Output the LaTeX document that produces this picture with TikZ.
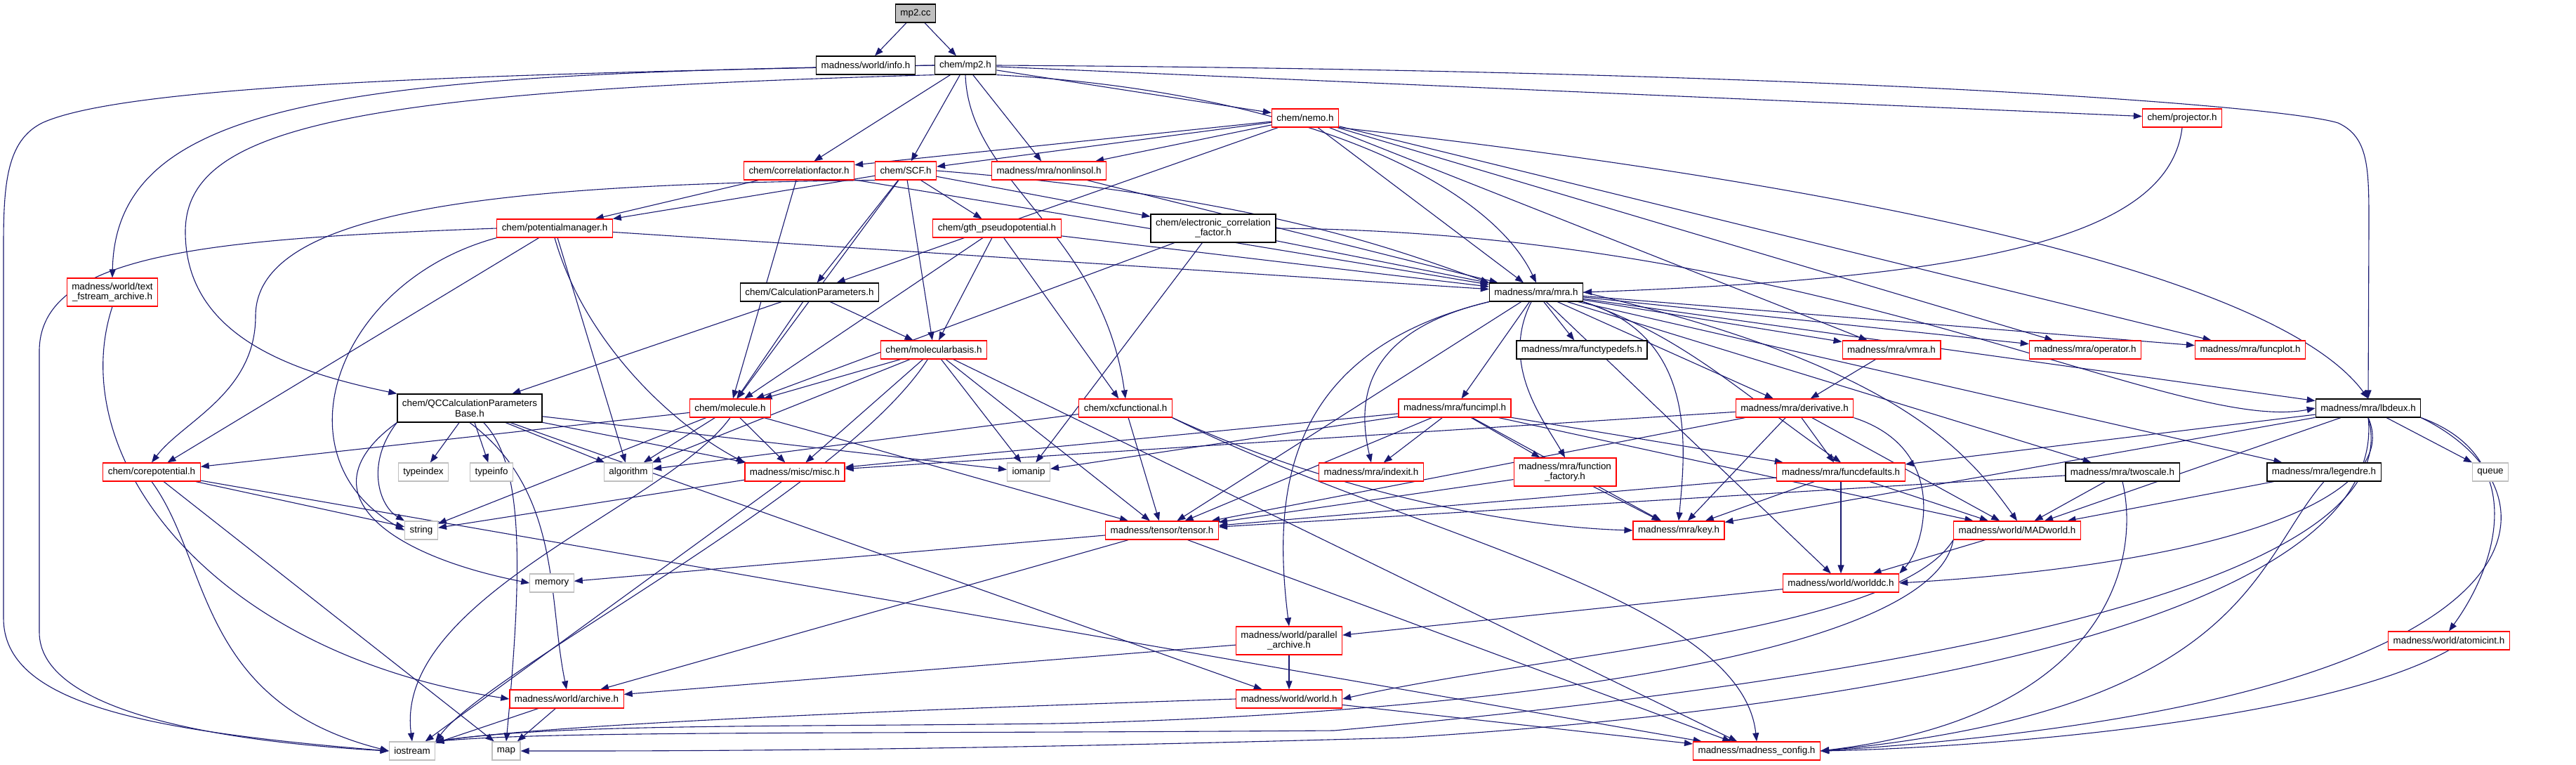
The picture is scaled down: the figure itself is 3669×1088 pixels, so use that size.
\documentclass[tikz,border=0pt]{standalone}
\usepackage{fontspec}
\setmainfont{Liberation Sans}
\definecolor{edgeblue}{RGB}{25,25,112}
\definecolor{sysgray}{RGB}{191,191,191}
\usetikzlibrary{arrows.meta,backgrounds}
\newcommand{\doxfont}{\fontsize{6.7pt}{7.4pt}\selectfont}

\begin{document}
\begin{tikzpicture}[x=0.5pt,y=-0.5pt,
  hdr/.style={draw=black,fill=white,line width=0.6pt,inner xsep=3.5pt,inner ysep=0pt,minimum height=13pt,font=\doxfont,align=center},
  trunc/.style={hdr,draw=red},
  syshdr/.style={hdr,draw=sysgray},
  twoline/.style={minimum height=20pt},
  dep/.style={draw=edgeblue,line width=0.55pt,-{Triangle[length=6pt,width=4.5pt]}}]
  \useasboundingbox (0,0) rectangle (3669,1088);
  % source file
  \node[hdr,fill=sysgray] (mpcc) at (1304,19) {mp2.cc};
  \node[hdr] (info) at (1233,93) {madness/world/info.h};
  \node[hdr] (mph) at (1375,93) {chem/mp2.h};
  % chem headers
  \node[trunc] (nemo) at (1859,168) {chem/nemo.h};
  \node[trunc] (proj) at (3108,168) {chem/projector.h};
  \node[trunc] (corr) at (1138,243) {chem/correlationfactor.h};
  \node[trunc] (scf) at (1290,243) {chem/SCF.h};
  \node[trunc] (nonlin) at (1494,243) {madness/mra/nonlinsol.h};
  \node[trunc] (potm) at (790,325) {chem/potentialmanager.h};
  \node[trunc] (gth) at (1420,325) {chem/gth\_pseudopotential.h};
  \node[hdr,twoline] (ecf) at (1728,325) {chem/electronic\_correlation\\\_factor.h};
  \node[trunc,twoline] (tfa) at (160,416) {madness/world/text\\\_fstream\_archive.h};
  \node[hdr] (calcp) at (1153,416) {chem/CalculationParameters.h};
  \node[hdr] (mra) at (2188,416) {madness/mra/mra.h};
  \node[trunc] (mbas) at (1330,498) {chem/molecularbasis.h};
  \node[hdr] (ftdefs) at (2253,498) {madness/mra/functypedefs.h};
  \node[trunc] (vmra) at (2694,498) {madness/mra/vmra.h};
  \node[trunc] (oper) at (2970,498) {madness/mra/operator.h};
  \node[trunc] (fplot) at (3205,498) {madness/mra/funcplot.h};
  \node[hdr,twoline] (qccp) at (669,581) {chem/QCCalculationParameters\\Base.h};
  \node[trunc] (mol) at (1040,581) {chem/molecule.h};
  \node[trunc] (xcf) at (1603,581) {chem/xcfunctional.h};
  \node[trunc] (fimpl) at (2072,581) {madness/mra/funcimpl.h};
  \node[trunc] (deriv) at (2556,581) {madness/mra/derivative.h};
  \node[hdr] (lbd) at (3373,581) {madness/mra/lbdeux.h};
  % lower rows
  \node[trunc] (corep) at (216,672) {chem/corepotential.h};
  \node[syshdr] (tidx) at (603,672) {typeindex};
  \node[syshdr] (tinf) at (700,672) {typeinfo};
  \node[syshdr] (algo) at (895,672) {algorithm};
  \node[trunc] (misc) at (1132,672) {madness/misc/misc.h};
  \node[syshdr] (ioman) at (1465,672) {iomanip};
  \node[trunc] (idx) at (1953,672) {madness/mra/indexit.h};
  \node[trunc,twoline] (ffac) at (2229,672) {madness/mra/function\\\_factory.h};
  \node[trunc] (fdef) at (2622,672) {madness/mra/funcdefaults.h};
  \node[hdr] (twos) at (3023,672) {madness/mra/twoscale.h};
  \node[hdr] (leg) at (3310,672) {madness/mra/legendre.h};
  \node[syshdr] (queue) at (3547,672) {queue};
  \node[syshdr] (str) at (600,755) {string};
  \node[trunc] (tens) at (1655,755) {madness/tensor/tensor.h};
  \node[trunc] (key) at (2391,755) {madness/mra/key.h};
  \node[trunc] (madw) at (2873,755) {madness/world/MADworld.h};
  \node[syshdr] (mem) at (786,830) {memory};
  \node[trunc] (wdc) at (2622,830) {madness/world/worlddc.h};
  \node[trunc,twoline] (parc) at (1836,912) {madness/world/parallel\\\_archive.h};
  \node[trunc] (atom) at (3488,912) {madness/world/atomicint.h};
  \node[trunc] (arch) at (807,995) {madness/world/archive.h};
  \node[trunc] (world) at (1836,995) {madness/world/world.h};
  \node[syshdr] (iost) at (587,1069) {iostream};
  \node[syshdr] (map) at (721,1069) {map};
  \node[trunc] (config) at (2502,1069) {madness/madness\_config.h};

  \begin{pgfonlayer}{background}
  \fill[white] (0,0) rectangle (3669,1088);
  % mp2.cc and chem/mp2.h
  \foreach \dst in {info,mph} \draw[dep] (mpcc) -- (\dst);
  \foreach \dst in {nemo,proj,corr,scf,nonlin} \draw[dep] (mph) -- (\dst);
  \draw[dep] (mph.south east) .. controls (1850,130) and (2120,260) .. (mra.north);
  \draw[dep] (mph.south) .. controls (1380,260) and (1570,330) .. (xcf.north);
  \draw[dep] (mph.east) .. controls (2600,100) and (3250,150) .. (3330,175) .. controls (3374,195) and (3374,240) .. (3374,320) -- (lbd.north);
  \draw[dep] (mph.west) .. controls (500,105) and (165,140) .. (tfa.north);
  \draw[dep] (mph.south west) .. controls (500,130) and (264,180) .. (264,330) .. controls (264,480) and (420,530) .. (qccp.north west);
  \draw[dep] (mph.west) .. controls (700,105) and (180,120) .. (60,175) .. controls (10,200) and (5,260) .. (5,350) -- (5,880) .. controls (5,1000) and (200,1040) .. (iost.west);
  % chem/nemo.h, chem/projector.h
  \foreach \dst in {corr,scf,nonlin,calcp,mra,vmra,oper,fplot} \draw[dep] (nemo) -- (\dst);
  \draw[dep] (nemo.south east) .. controls (2700,270) and (3250,400) .. (lbd.north);
  \draw[dep] (proj.south) .. controls (3090,330) and (2850,395) .. (mra.east);
  % correlation factor, SCF, nonlinsol
  \foreach \dst in {potm,mol,mra} \draw[dep] (corr) -- (\dst);
  \foreach \dst in {potm,gth,ecf,calcp,mol,mbas} \draw[dep] (scf) -- (\dst);
  \draw[dep] (scf.east) .. controls (1800,280) and (2000,360) .. (mra.north west);
  \draw[dep] (scf.south west) .. controls (700,262) and (364,300) .. (364,450) .. controls (364,560) and (260,600) .. (corep.north);
  \draw[dep] (nonlin) -- (mra);
  \foreach \dst in {mol,mbas,xcf,mra} \draw[dep] (gth) -- (\dst);
  \foreach \dst in {mra,mol,ioman} \draw[dep] (ecf) -- (\dst);
  \draw[dep] (ecf.east) .. controls (2600,330) and (3100,620) .. (lbd.west);
  % potential manager, text archive
  \foreach \dst in {corep,algo,mra} \draw[dep] (potm) -- (\dst);
  \draw[dep] (potm.south) .. controls (830,480) and (950,600) .. (misc.north west);
  \draw[dep] (potm.south west) .. controls (480,400) and (390,650) .. (str.west);
  \draw[dep] (potm.west) .. controls (300,340) and (56,360) .. (56,500) -- (56,900) .. controls (56,1010) and (300,1055) .. (iost.west);
  \draw[dep] (tfa.south) .. controls (90,650) and (300,930) .. (arch.west);
  % calculation parameters, basis, molecule
  \foreach \dst in {qccp,mol,mbas} \draw[dep] (calcp) -- (\dst);
  \foreach \dst in {mol,algo,misc,tens,ioman,config} \draw[dep] (mbas) -- (\dst);
  \draw[dep] (mbas) .. controls (1200,700) and (700,950) .. (iost.north east);
  \foreach \dst in {tidx,tinf,algo,misc,ioman,world} \draw[dep] (qccp) -- (\dst);
  \draw[dep] (qccp.south west) .. controls (520,660) and (540,720) .. (str.north west);
  \draw[dep] (qccp.south west) .. controls (430,700) and (550,790) .. (mem.west);
  \draw[dep] (qccp) .. controls (745,660) and (745,800) .. (map.north);
  \draw[dep] (qccp.south) .. controls (800,700) and (780,850) .. (arch.north);
  \foreach \dst in {corep,algo,misc,str,tens} \draw[dep] (mol) -- (\dst);
  \draw[dep] (mol.south) .. controls (950,720) and (560,850) .. (iost.north);
  \foreach \dst in {algo,tens} \draw[dep] (xcf) -- (\dst);
  \draw[dep] (xcf.south east) .. controls (1900,700) and (2150,750) .. (key.west);
  \draw[dep] (xcf.south east) .. controls (2000,760) and (2480,850) .. (config.north);
  \foreach \dst in {map,str,config} \draw[dep] (corep) -- (\dst);
  \draw[dep] (corep.south) .. controls (300,800) and (280,1000) .. (iost.west);
  \foreach \dst in {str,iost} \draw[dep] (misc) -- (\dst);
  % mra.h and below
  \foreach \dst in {ioman,misc,idx,ffac,fdef,key,madw,tens} \draw[dep] (fimpl) -- (\dst);
  \foreach \dst in {ftdefs,vmra,oper,fplot,lbd,deriv,fimpl,tens,wdc,twos,leg} \draw[dep] (mra) -- (\dst);
  \draw[dep] (mra) .. controls (2135,520) and (2200,600) .. (ffac.north);
  \draw[dep] (mra.south east) .. controls (2400,480) and (2480,560) .. (fdef.north);
  \draw[dep] (mra.south west) .. controls (1950,470) and (1930,560) .. (idx.north);
  \draw[dep] (mra.south east) .. controls (2420,480) and (2400,640) .. (key.north);
  \draw[dep] (mra.east) .. controls (2700,520) and (2800,640) .. (madw.north);
  \draw[dep] (mra.south west) .. controls (1830,500) and (1812,700) .. (parc.north);
  \draw[dep] (vmra) -- (deriv);
  \foreach \dst in {misc,tens,fdef,key,madw} \draw[dep] (deriv) -- (\dst);
  \draw[dep] (deriv.south east) .. controls (2780,640) and (2740,780) .. (wdc.north east);
  \foreach \dst in {tens,key} \draw[dep] (ffac) -- (\dst);
  \foreach \dst in {tens,key,madw,wdc} \draw[dep] (fdef) -- (\dst);
  \foreach \dst in {tens,madw} \draw[dep] (twos) -- (\dst);
  \draw[dep] (twos.south) .. controls (3050,800) and (3000,1020) .. (config.east);
  \draw[dep] (leg) -- (madw);
  \draw[dep] (leg.south) .. controls (3210,800) and (3200,1010) .. (config.east);
  % lbdeux
  \foreach \dst in {fdef,key,madw,queue} \draw[dep] (lbd) -- (\dst);
  \draw[dep] (lbd.south) .. controls (3420,700) and (3200,800) .. (wdc.east);
  \draw[dep] (lbd.south east) .. controls (3600,650) and (3560,800) .. (atom.north);
  \draw[dep] (lbd.south east) .. controls (3665,700) and (3665,1000) .. (config.east);
  \draw[dep] (lbd.south) .. controls (3430,800) and (2900,950) .. (1900,1040) .. controls (1200,1045) and (800,1040) .. (iost.north east);
  \draw[dep] (lbd.south) .. controls (3400,850) and (2800,1000) .. (2000,1050) .. controls (1300,1070) and (900,1069) .. (map.east);
  % world headers
  \foreach \dst in {mem,arch,config} \draw[dep] (tens) -- (\dst);
  \draw[dep] (madw) -- (wdc);
  \draw[dep] (madw.south west) .. controls (2700,900) and (2200,930) .. (world.east);
  \draw[dep] (madw.south west) .. controls (2750,950) and (2000,1020) .. (1500,1030) .. controls (1100,1035) and (800,1030) .. (iost.north east);
  \draw[dep] (wdc) -- (parc);
  \foreach \dst in {world,arch} \draw[dep] (parc) -- (\dst);
  \draw[dep] (world.west) .. controls (1300,1010) and (800,1030) .. (iost.north east);
  \draw[dep] (world) -- (config);
  \foreach \dst in {iost,map} \draw[dep] (arch) -- (\dst);
  \draw[dep] (atom.south) .. controls (3300,1030) and (2800,1065) .. (config.east);
  \end{pgfonlayer}
\end{tikzpicture}
\end{document}
